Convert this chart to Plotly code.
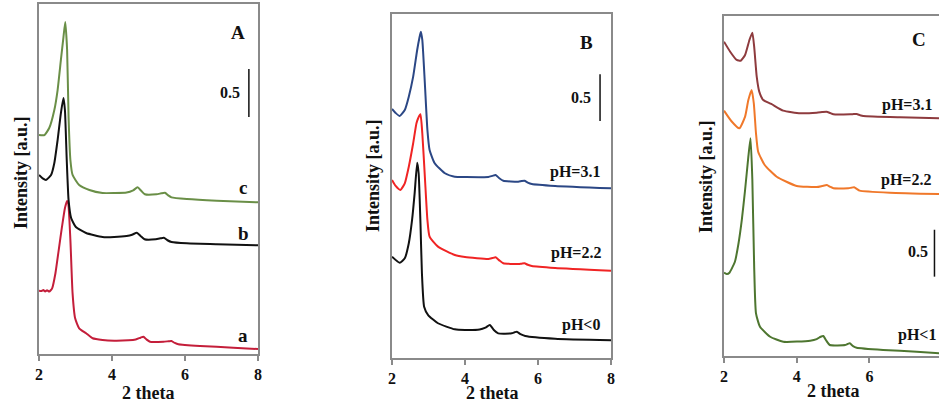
import plotly.graph_objects as go

# ---------------- Panel A ----------------
a_red_x = [2.00, 2.06, 2.12, 2.17, 2.22, 2.28, 2.36, 2.45, 2.54, 2.63, 2.71, 2.77, 2.80, 2.86, 2.92, 2.99, 3.10, 3.29, 3.47, 3.74, 4.06, 4.45, 4.65, 4.78, 4.86, 4.95, 5.04, 5.41, 5.55, 5.63, 5.72, 5.82, 6.41, 7.32, 8.00]
a_red_y = [0.659, 0.655, 0.666, 0.652, 0.664, 0.650, 0.684, 0.841, 1.083, 1.326, 1.518, 1.594, 1.573, 1.188, 0.632, 0.372, 0.268, 0.216, 0.164, 0.146, 0.139, 0.143, 0.152, 0.170, 0.180, 0.150, 0.128, 0.128, 0.133, 0.135, 0.115, 0.101, 0.083, 0.066, 0.052]

a_black_x = [2.00, 2.10, 2.19, 2.33, 2.42, 2.51, 2.60, 2.67, 2.71, 2.76, 2.81, 2.88, 3.01, 3.29, 3.74, 4.06, 4.40, 4.55, 4.68, 4.78, 4.89, 5.20, 5.33, 5.42, 5.52, 5.63, 6.05, 6.87, 8.00]
a_black_y = [1.865, 1.830, 1.813, 1.865, 1.990, 2.229, 2.510, 2.667, 2.542, 2.021, 1.604, 1.417, 1.323, 1.260, 1.219, 1.219, 1.229, 1.242, 1.264, 1.230, 1.195, 1.195, 1.205, 1.211, 1.185, 1.167, 1.153, 1.143, 1.132]

a_green_x = [2.00, 2.15, 2.28, 2.42, 2.51, 2.60, 2.67, 2.72, 2.77, 2.81, 2.86, 2.92, 3.10, 3.38, 3.74, 4.06, 4.40, 4.58, 4.70, 4.80, 4.90, 5.22, 5.35, 5.45, 5.55, 5.63, 6.05, 6.87, 8.00]
a_green_y = [2.281, 2.281, 2.354, 2.542, 2.750, 3.063, 3.302, 3.458, 3.167, 2.469, 2.021, 1.865, 1.760, 1.708, 1.677, 1.677, 1.682, 1.705, 1.736, 1.700, 1.664, 1.664, 1.674, 1.680, 1.650, 1.632, 1.615, 1.597, 1.580]

# ---------------- Panel B ----------------
b_blue_x = [2.00, 2.10, 2.21, 2.35, 2.46, 2.58, 2.69, 2.75, 2.79, 2.83, 2.90, 2.97, 3.03, 3.17, 3.45, 3.72, 4.00, 4.64, 4.75, 4.84, 4.94, 5.05, 5.46, 5.55, 5.63, 5.72, 5.83, 6.47, 8.00]
b_blue_y = [2.666, 2.623, 2.591, 2.655, 2.798, 3.012, 3.298, 3.426, 3.494, 3.405, 2.941, 2.441, 2.227, 2.085, 1.978, 1.941, 1.938, 1.938, 1.950, 1.959, 1.925, 1.898, 1.888, 1.895, 1.898, 1.878, 1.863, 1.842, 1.817]

b_red_x = [2.00, 2.10, 2.23, 2.35, 2.46, 2.58, 2.67, 2.72, 2.78, 2.83, 2.90, 2.97, 3.03, 3.26, 3.72, 4.00, 4.64, 4.75, 4.84, 4.94, 5.05, 5.46, 5.55, 5.63, 5.72, 5.83, 6.47, 8.00]
b_red_y = [1.906, 1.842, 1.799, 1.870, 2.048, 2.299, 2.513, 2.570, 2.609, 2.406, 1.941, 1.478, 1.299, 1.192, 1.103, 1.081, 1.060, 1.070, 1.078, 1.045, 1.014, 1.006, 1.010, 1.014, 0.998, 0.985, 0.964, 0.935]

b_black_x = [2.00, 2.21, 2.35, 2.46, 2.55, 2.62, 2.69, 2.73, 2.78, 2.82, 2.88, 2.99, 3.26, 3.72, 4.00, 4.40, 4.56, 4.68, 4.79, 4.91, 5.28, 5.36, 5.42, 5.52, 5.65, 6.47, 8.00]
b_black_y = [1.085, 1.020, 1.067, 1.228, 1.478, 1.763, 2.091, 1.978, 1.442, 0.907, 0.549, 0.460, 0.372, 0.307, 0.300, 0.305, 0.325, 0.353, 0.300, 0.264, 0.264, 0.276, 0.282, 0.255, 0.236, 0.207, 0.190]

# ---------------- Panel C ----------------
c_maroon_x = [2.00, 2.17, 2.35, 2.46, 2.58, 2.70, 2.78, 2.83, 2.90, 2.97, 3.08, 3.30, 3.63, 4.10, 4.55, 4.70, 4.82, 4.92, 5.01, 5.47, 5.57, 5.65, 5.74, 5.83, 6.84, 8.00]
c_maroon_y = [3.344, 3.237, 3.149, 3.141, 3.202, 3.362, 3.439, 3.290, 2.971, 2.812, 2.723, 2.681, 2.610, 2.582, 2.588, 2.595, 2.599, 2.585, 2.571, 2.571, 2.573, 2.574, 2.562, 2.553, 2.539, 2.529]

c_orange_x = [2.00, 2.20, 2.42, 2.58, 2.67, 2.76, 2.82, 2.88, 2.94, 3.12, 3.45, 4.00, 4.55, 4.70, 4.83, 4.92, 5.01, 5.42, 5.50, 5.58, 5.66, 5.73, 6.56, 8.00]
c_orange_y = [2.610, 2.500, 2.422, 2.546, 2.723, 2.830, 2.688, 2.369, 2.173, 2.032, 1.907, 1.809, 1.797, 1.808, 1.819, 1.800, 1.784, 1.784, 1.790, 1.795, 1.775, 1.759, 1.737, 1.722]

c_green_x = [2.00, 2.08, 2.15, 2.30, 2.40, 2.49, 2.58, 2.67, 2.73, 2.78, 2.83, 2.88, 2.99, 3.27, 3.63, 4.37, 4.55, 4.66, 4.73, 4.82, 4.91, 5.33, 5.40, 5.46, 5.55, 5.65, 6.38, 7.30, 8.00]
c_green_y = [0.886, 0.872, 0.886, 1.003, 1.199, 1.447, 1.766, 2.120, 2.316, 1.872, 0.950, 0.454, 0.312, 0.205, 0.152, 0.163, 0.180, 0.205, 0.213, 0.160, 0.117, 0.117, 0.128, 0.135, 0.105, 0.088, 0.064, 0.046, 0.028]

x_ticks = [2, 4, 6, 8]
x_tick_text = ["2", "4", "6", "8"]

FONT = "Liberation Serif"
AXIS_GREY = "#8a8a8a"

fig = go.Figure()

def add(x, y, color, xa, ya):
    fig.add_trace(go.Scatter(x=x, y=y, mode="lines", xaxis=xa, yaxis=ya,
                             line=dict(color=color, width=2, shape="spline", smoothing=0.5),
                             showlegend=False, hoverinfo="skip"))

add(a_red_x, a_red_y, "#C41E3A", "x", "y")
add(a_black_x, a_black_y, "#111111", "x", "y")
add(a_green_x, a_green_y, "#6A8F47", "x", "y")

add(b_blue_x, b_blue_y, "#2B4785", "x2", "y2")
add(b_red_x, b_red_y, "#F02424", "x2", "y2")
add(b_black_x, b_black_y, "#111111", "x2", "y2")

add(c_maroon_x, c_maroon_y, "#8E3B3E", "x3", "y3")
add(c_orange_x, c_orange_y, "#F0782A", "x3", "y3")
add(c_green_x, c_green_y, "#4E7630", "x3", "y3")

W, H = 939, 406
def px(v):
    return v / W
def py(v):
    return (H - v) / H

xcommon = dict(showline=True, linecolor=AXIS_GREY, linewidth=1.5, ticks="outside", ticklen=5,
               tickcolor=AXIS_GREY, tickwidth=1.5, tickvals=x_ticks,
               ticktext=["<b>" + t + "</b>" for t in x_tick_text],
               showgrid=False, zeroline=False, automargin=False, ticklabelstandoff=0,
               tickfont=dict(family=FONT, size=16, color="#111111"))
ycommon = dict(showline=True, linecolor=AXIS_GREY, linewidth=1.5, ticks="", showticklabels=False,
               showgrid=False, zeroline=False, automargin=False)

c_xmax = 2 + (W - 724) / 36.35

fig.update_layout(
    width=W, height=H, margin=dict(l=0, r=0, t=0, b=0),
    paper_bgcolor="white", plot_bgcolor="white", template="none", showlegend=False,
    xaxis=dict(xcommon, domain=[px(39), px(258)], range=[2, 8], anchor="y", mirror=True),
    yaxis=dict(ycommon, domain=[py(354), py(4)], range=[0, 3.646], anchor="x", mirror=True),
    xaxis2=dict(xcommon, domain=[px(392), px(611)], range=[2, 8], anchor="y2", mirror=True),
    yaxis2=dict(ycommon, domain=[py(358), py(14)], range=[0, 3.683], anchor="x2", mirror=True),
    xaxis3=dict(xcommon, domain=[px(724), 1.0], range=[2, c_xmax], anchor="y3", mirror=True),
    yaxis3=dict(ycommon, domain=[py(356), py(15.7)], range=[0, 3.62], anchor="x3", mirror=False),
)

def note(text, x, y, xref, yref, size, angle=0):
    fig.add_annotation(text="<b>" + text + "</b>", x=x, y=y, xref=xref, yref=yref, showarrow=False,
                       textangle=angle, xanchor="center", yanchor="middle",
                       font=dict(family=FONT, size=size, color="#111111"))

# axis titles
note("2 theta", px(148), py(393), "paper", "paper", 18)
note("2 theta", px(492), py(393), "paper", "paper", 18)
note("2 theta", px(833), py(391), "paper", "paper", 18)
note("Intensity [a.u.]", px(21), py(173), "paper", "paper", 18, -90)
note("Intensity [a.u.]", px(373), py(176), "paper", "paper", 18, -90)
note("Intensity [a.u.]", px(706), py(177), "paper", "paper", 18, -90)

# panel A labels
note("A", 7.45, 3.344, "x", "y", 19)
note("0.5", 7.23, 2.72, "x", "y", 16)
note("c", 7.59, 1.73, "x", "y", 19)
note("b", 7.59, 1.26, "x", "y", 19)
note("a", 7.59, 0.19, "x", "y", 19)
# panel B labels
note("B", 7.32, 3.383, "x2", "y2", 19)
note("0.5", 7.19, 2.794, "x2", "y2", 16)
note("pH=3.1", 7.01, 1.99, "x2", "y2", 16)
note("pH=2.2", 7.03, 1.121, "x2", "y2", 16)
note("pH&lt;0", 7.19, 0.353, "x2", "y2", 16)
# panel C labels
note("C", 7.36, 3.362, "x3", "y3", 19)
note("pH=3.1", 7.04, 2.67, "x3", "y3", 16)
note("pH=2.2", 7.02, 1.872, "x3", "y3", 16)
note("0.5", 7.34, 1.11, "x3", "y3", 16)
note("pH&lt;1", 7.30, 0.223, "x3", "y3", 16)

# 0.5 scale bars
fig.add_shape(type="line", xref="x", yref="y", x0=7.75, x1=7.75, y0=2.469, y1=2.969, line=dict(color="#111111", width=1.5))
fig.add_shape(type="line", xref="x2", yref="y2", x0=7.70, x1=7.70, y0=2.537, y1=3.037, line=dict(color="#111111", width=1.5))
fig.add_shape(type="line", xref="x3", yref="y3", x0=7.79, x1=7.79, y0=0.844, y1=1.344, line=dict(color="#111111", width=1.5))

fig.write_html("out.html", config={"displayModeBar": False},
               post_script="document.body.style.margin='0';document.body.style.padding='0';")
